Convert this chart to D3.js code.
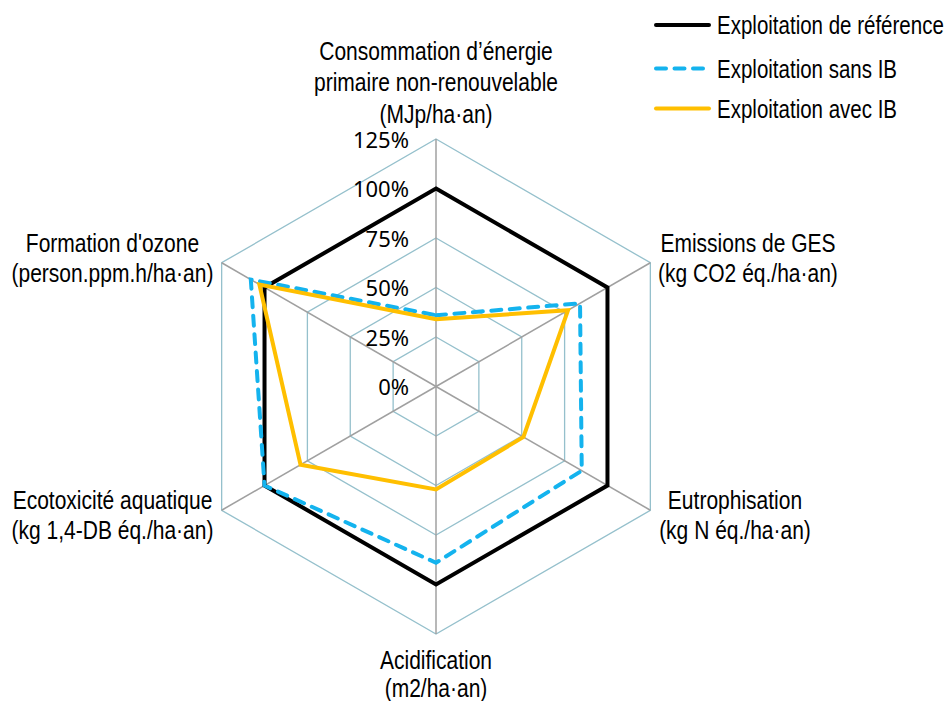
<!DOCTYPE html>
<html>
<head>
<meta charset="utf-8">
<script src="https://cdn.jsdelivr.net/npm/d3@7"></script>
<style>
body { margin: 0; background: #fff; }
svg text { font-family: "Liberation Sans", Arial, sans-serif; fill: #000; }
</style>
</head>
<body>
<svg id="chart" width="951" height="701"></svg>
<script>
// axes, clockwise from the top
var axes = [
    ["Consommation d\u2019énergie", "primaire non-renouvelable", "(MJp/ha·an)"],
    ["Emissions de GES", "(kg CO2 éq./ha·an)"],
    ["Eutrophisation", "(kg N éq./ha·an)"],
    ["Acidification", "(m2/ha·an)"],
    ["Ecotoxicité aquatique", "(kg 1,4-DB éq./ha·an)"],
    ["Formation d'ozone", "(person.ppm.h/ha·an)"]
];
var ticks = [0, 0.25, 0.5, 0.75, 1, 1.25];
var tick_labels = ["0%", "25%", "50%", "75%", "100%", "125%"];

var series_names = ["Exploitation de référence", "Exploitation sans IB", "Exploitation avec IB"];
var ref_values = [1, 1, 1, 1, 1, 1];
var sans_values = [0.36, 0.84, 0.85, 0.89, 1.0, 1.08];
var avec_values = [0.34, 0.77, 0.51, 0.52, 0.79, 1.03];

var cx = 436, cy = 386.5;
var svg = d3.select("#chart");
var r = d3.scaleLinear().domain([0, 1.25]).range([0, 247.5]);

function angle(i){ return i * Math.PI * 2 / axes.length; }
function px(i, v){ return cx + r(v) * Math.sin(angle(i)); }
function py(i, v){ return cy - r(v) * Math.cos(angle(i)); }

// the original labels use a narrow face: squeeze the glyphs horizontally
function squeeze(sel, k){
    sel.each(function(){
        var w = this.getComputedTextLength();
        d3.select(this)
        .attr("textLength", w * k)
        .attr("lengthAdjust", "spacingAndGlyphs");
    });
}

var g = svg.append("g");

// rings
ticks.slice(1).forEach(function(t){
    var pts = axes.map(function(a, i){ return [px(i, t), py(i, t)]; });
    g.append("polygon")
    .attr("points", pts.map(function(p){ return p.join(","); }).join(" "))
    .attr("fill", "none")
    .attr("stroke", "#95c0cc")
    .attr("stroke-width", 1.3);
});

// spokes
axes.forEach(function(a, i){
    g.append("line")
    .attr("x1", cx).attr("y1", cy)
    .attr("x2", px(i, 1.25)).attr("y2", py(i, 1.25))
    .attr("stroke", "#a0a0a0")
    .attr("stroke-width", 1.5);
});

// tick labels
ticks.forEach(function(t, k){
    g.append("text")
    .attr("x", cx - 27)
    .attr("y", cy - r(t) + 8.5)
    .attr("text-anchor", "end")
    .style("font-family", "'Noto Sans', sans-serif")
    .style("font-size", "22px")
    .text(tick_labels[k]);
});

var line = d3.line().curve(d3.curveLinearClosed);
function draw_series(values, color, dash, width){
    g.append("path")
    .attr("d", line(values.map(function(v, i){ return [px(i, v), py(i, v)]; })))
    .attr("fill", "none")
    .attr("stroke", color)
    .attr("stroke-width", width)
    .attr("stroke-dasharray", dash)
    .attr("stroke-linecap", dash ? "round" : "butt")
    .attr("stroke-linejoin", "miter");
}
draw_series(ref_values, "#000000", null, 4);
draw_series(sans_values, "#14b3ee", "10,8.5", 4);
draw_series(avec_values, "#ffbf00", null, 4);

// axis labels: first baseline and line step
var label_pos = [[436, 59.5, 31.5], [748, 251.5, 30], [735, 508.5, 30],
                 [436, 668.5, 28], [112.5, 508.5, 30], [112.5, 251.5, 30]];
axes.forEach(function(a, i){
    a.forEach(function(s, k){
        g.append("text")
        .attr("x", label_pos[i][0])
        .attr("y", label_pos[i][1] + k * label_pos[i][2])
        .attr("text-anchor", "middle")
        .style("font-size", "25px")
        .text(s)
        .call(squeeze, 0.84);
    });
});

// legend
var legend_colors = ["#000000", "#14b3ee", "#ffbf00"];
var legend_dash = [null, "10,8.5", null];
var legend_y = [25, 68.5, 108.5];
series_names.forEach(function(n, k){
    svg.append("line")
    .attr("x1", 656).attr("x2", 709)
    .attr("y1", legend_y[k]).attr("y2", legend_y[k])
    .attr("stroke", legend_colors[k])
    .attr("stroke-width", 4)
    .attr("stroke-linecap", "round")
    .attr("stroke-dasharray", legend_dash[k]);
    svg.append("text")
    .attr("x", 717)
    .attr("y", legend_y[k] + 9)
    .style("font-size", "25px")
    .text(n)
    .call(squeeze, 0.82);
});
</script>
</body>
</html>
